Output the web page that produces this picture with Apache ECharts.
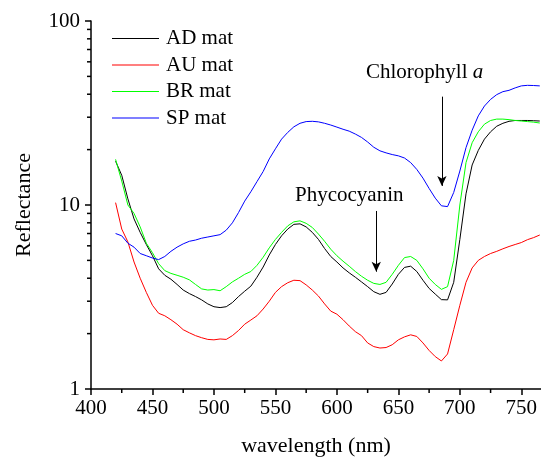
<!DOCTYPE html>
<html>
<head>
<meta charset="utf-8">
<script src="https://cdn.jsdelivr.net/npm/echarts@6/dist/echarts.min.js"></script>
<style>
html,body{margin:0;padding:0;background:#fff;}
#chart{width:541px;height:462px;}
</style>
</head>
<body>
<div id="chart"></div>
<script>
// Wavelength samples (nm)
var wavelength = [420,425,430,435,440,445,450,455,460,465,470,475,480,485,490,495,500,505,510,515,520,525,530,535,540,545,550,555,560,565,570,575,580,585,590,595,600,605,610,615,620,625,630,635,640,645,650,655,660,665,670,675,680,685,690,695,700,705,710,715,720,725,730,735,740,745,750,755,760,765];

var adMat = [17.3,14.5,10.8,8.4,7.1,6.1,5.3,4.5,4.15,3.95,3.7,3.45,3.3,3.18,3.05,2.9,2.8,2.77,2.8,2.95,3.18,3.4,3.62,4.05,4.6,5.35,6.1,6.8,7.4,7.85,7.9,7.6,7.1,6.5,5.8,5.25,4.9,4.55,4.28,4.05,3.82,3.6,3.38,3.27,3.35,3.72,4.2,4.58,4.65,4.35,3.9,3.52,3.28,3.06,3.05,3.8,6.5,11.5,16.5,19.8,22.8,25.0,26.8,27.8,28.5,28.8,28.8,28.8,28.7,28.6];

var auMat = [10.3,7.4,6.3,4.9,4.0,3.35,2.85,2.58,2.5,2.38,2.25,2.1,2.02,1.95,1.9,1.86,1.85,1.87,1.86,1.95,2.08,2.25,2.37,2.5,2.72,3.0,3.35,3.6,3.78,3.9,3.88,3.68,3.45,3.2,2.9,2.65,2.55,2.38,2.2,2.05,1.95,1.78,1.7,1.67,1.68,1.74,1.85,1.92,1.97,1.93,1.78,1.62,1.5,1.42,1.55,2.1,2.85,3.8,4.55,5.0,5.25,5.45,5.6,5.78,5.95,6.1,6.25,6.48,6.65,6.87];

var brMat = [17.7,13.5,10.0,9.0,7.6,6.2,5.5,4.8,4.4,4.25,4.15,4.05,3.92,3.7,3.5,3.45,3.47,3.42,3.6,3.82,4.0,4.2,4.35,4.7,5.2,5.85,6.5,7.1,7.7,8.1,8.2,7.95,7.55,6.95,6.35,5.75,5.3,4.95,4.65,4.35,4.1,3.9,3.75,3.7,3.8,4.2,4.7,5.18,5.25,5.0,4.5,4.0,3.7,3.48,3.6,5.0,10.0,17.0,21.8,25.0,27.5,28.8,29.3,29.3,29.1,28.8,28.6,28.4,28.2,27.9];

var spMat = [7.0,6.8,6.2,5.9,5.45,5.3,5.15,5.05,5.25,5.6,5.9,6.15,6.35,6.45,6.6,6.7,6.8,6.9,7.3,8.0,9.1,10.5,11.8,13.4,15.2,17.8,20.2,22.8,24.8,26.6,27.8,28.4,28.5,28.3,27.8,27.2,26.5,25.8,25.2,24.3,23.3,22.0,20.6,19.7,19.2,18.8,18.5,18.0,17.0,15.6,14.0,12.3,10.9,9.9,9.8,11.7,15.3,20.5,25.5,30.5,34.5,37.5,39.8,41.3,42.0,43.3,44.4,44.7,44.6,44.4];

var seriesNames = ['AD mat','AU mat','BR mat','SP mat'];
var seriesColors = ['#000000','#ff0000','#00ff00','#0000ff'];

var xMinorTicks = [425,475,525,575,625,675,725];
var yMinorTicks = [2,3,4,5,6,7,8,9,20,30,40,50,60,70,80,90];

// annotation arrows: [wavelength, from, to]
var chlArrow = [685.4, 38.8, 12.7];
var phyArrow = [632, 9.28, 4.34];

var FONT = 'Liberation Serif';
var X_MIN = 400, X_MAX = 766, X_STEP = 50, Y_MIN = 1, Y_MAX = 100;

function pairs(vals){ return wavelength.map(function(w,i){ return [w, vals[i]]; }); }

var allVals = [adMat, auMat, brMat, spMat];
var series = allVals.map(function(v,i){
  return {
    name: seriesNames[i],
    type: 'line',
    data: pairs(v),
    showSymbol: false,
    symbol: 'none',
    lineStyle: {color: seriesColors[i], width: 1},
    itemStyle: {color: seriesColors[i]},
    z: 3
  };
});
series.push({
  name: 'arrows',
  type: 'line',
  data: [],
  markLine: {
    silent: true,
    symbol: ['none','arrow'],
    symbolSize: [7, 10],
    label: {show: false},
    lineStyle: {color: '#000', width: 1, type: 'solid'},
    data: [
      [{coord: [chlArrow[0], chlArrow[1]]}, {coord: [chlArrow[0], chlArrow[2]]}],
      [{coord: [phyArrow[0], phyArrow[1]]}, {coord: [phyArrow[0], phyArrow[2]]}]
    ]
  }
});
// minor ticks (outside the plot), placed through the axis scales
series.push({
  name: 'xminor', type: 'custom', silent: true, clip: false, z: 10,
  data: xMinorTicks.map(function(v){ return [v, Y_MIN]; }),
  renderItem: function(params, api){
    var p = api.coord([api.value(0), api.value(1)]);
    return {type: 'line', shape: {x1: p[0], y1: p[1], x2: p[0], y2: p[1] + 4},
            style: {stroke: '#000', lineWidth: 1.5}};
  }
});
series.push({
  name: 'yminor', type: 'custom', silent: true, clip: false, z: 10,
  data: yMinorTicks.map(function(v){ return [X_MIN, v]; }),
  renderItem: function(params, api){
    var p = api.coord([api.value(0), api.value(1)]);
    return {type: 'line', shape: {x1: p[0] - 4, y1: p[1], x2: p[0], y2: p[1]},
            style: {stroke: '#000', lineWidth: 1.5}};
  }
});

var labelRich = {a: {fontFamily: FONT, fontSize: 21, color: '#000'}};

var chart = echarts.init(document.getElementById('chart'), null, {renderer: 'canvas'});
chart.setOption({
  animation: false,
  backgroundColor: '#fff',
  textStyle: {fontFamily: FONT, color: '#000'},
  grid: {left: 91, right: 0, top: 21, bottom: 71, containLabel: false},
  legend: {
    data: seriesNames,
    orient: 'vertical',
    left: 112, top: 28, padding: 0,
    icon: 'rect',
    itemWidth: 47, itemHeight: 1.2, itemGap: 5.5,
    textStyle: {fontFamily: FONT, fontSize: 21, color: '#000', lineHeight: 21, padding: [0,0,0,2]}
  },
  xAxis: {
    type: 'value', min: X_MIN, max: X_MAX, interval: X_STEP,
    name: 'wavelength (nm)', nameLocation: 'middle', nameGap: 46,
    nameTextStyle: {fontFamily: FONT, fontSize: 22, color: '#000'},
    axisLine: {lineStyle: {color: '#000', width: 1.5}},
    axisTick: {show: true, length: 6, lineStyle: {color: '#000', width: 1.5}},
    axisLabel: {formatter: '{a|{value}}', rich: labelRich, margin: 9, showMaxLabel: false},
    splitLine: {show: false}
  },
  yAxis: {
    type: 'log', logBase: 10, min: Y_MIN, max: Y_MAX,
    name: 'Reflectance', nameLocation: 'middle', nameGap: 56,
    nameTextStyle: {fontFamily: FONT, fontSize: 22, color: '#000'},
    axisLine: {show: true, lineStyle: {color: '#000', width: 1.5}},
    axisTick: {show: true, length: 6, lineStyle: {color: '#000', width: 1.5}},
    axisLabel: {formatter: '{a|{value}}', rich: labelRich, margin: 11},
    splitLine: {show: false}
  },
  graphic: [
    {
      type: 'text', left: 366, top: 62, silent: true,
      style: {
        text: '{n|Chlorophyll }{i|a}',
        rich: {
          n: {fontFamily: FONT, fontSize: 21, fill: '#000'},
          i: {fontFamily: FONT, fontSize: 21, fontStyle: 'italic', fill: '#000'}
        }
      }
    },
    {
      type: 'text', left: 295, top: 185, silent: true,
      style: {text: 'Phycocyanin', fontFamily: FONT, fontSize: 21, fill: '#000'}
    }
  ],
  series: series
});
</script>
</body>
</html>
